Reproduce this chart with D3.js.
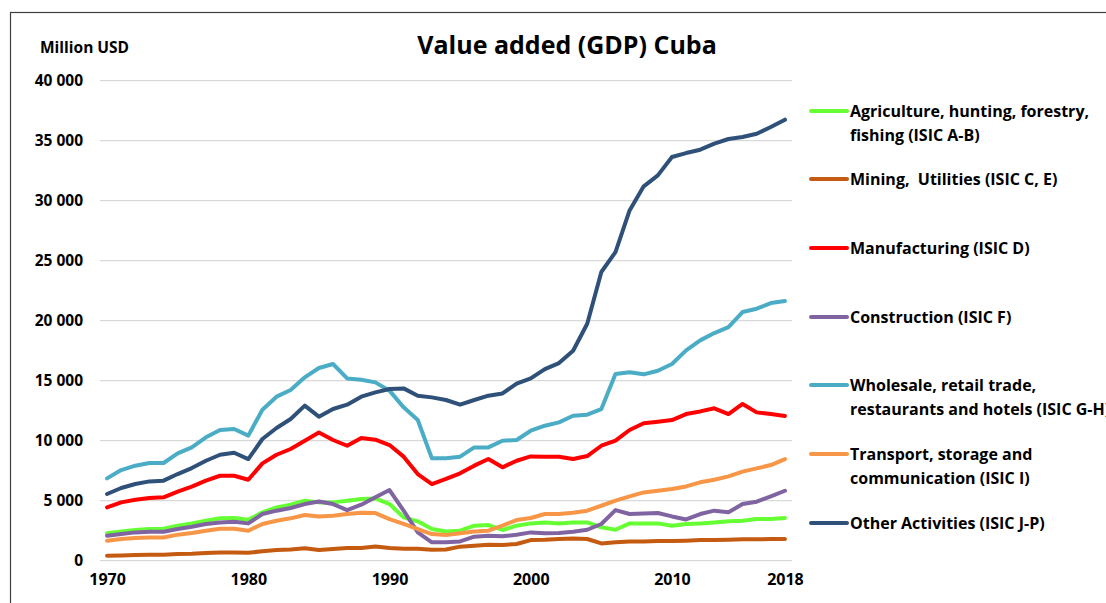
<!DOCTYPE html>
<html><head><meta charset="utf-8">
<script src="https://cdn.jsdelivr.net/npm/d3@7"></script>
<style>
html,body{margin:0;padding:0;background:#fff;}
svg{display:block;font-family:"Open Sans",sans-serif;font-weight:bold;}
text{white-space:pre;}
</style></head>
<body><svg id="c" width="1106" height="603"></svg>
<script>
const years = [1970,1971,1972,1973,1974,1975,1976,1977,1978,1979,1980,1981,1982,1983,1984,1985,1986,1987,1988,1989,1990,1991,1992,1993,1994,1995,1996,1997,1998,1999,2000,2001,2002,2003,2004,2005,2006,2007,2008,2009,2010,2011,2012,2013,2014,2015,2016,2017,2018];
const xTickLabels = [1970,1980,1990,2000,2010,2018];
const yTicks = [0,5000,10000,15000,20000,25000,30000,35000,40000];

const agriculture = [2280,2440,2560,2640,2670,2920,3110,3330,3530,3560,3420,4030,4440,4670,5000,4860,4860,5000,5140,5190,4720,3610,3280,2640,2440,2500,2920,2970,2560,2920,3110,3190,3110,3190,3190,2780,2580,3110,3110,3110,2920,3060,3110,3190,3280,3330,3470,3470,3560];
const mining = [420,440,470,500,500,560,580,640,690,690,670,780,890,940,1030,890,970,1060,1060,1190,1060,1000,1000,920,940,1170,1250,1330,1310,1390,1720,1750,1810,1860,1810,1440,1530,1610,1610,1640,1640,1670,1720,1720,1750,1780,1780,1810,1810];
const manufacturing = [4440,4860,5080,5220,5280,5750,6170,6670,7080,7080,6750,8110,8830,9310,10000,10690,10060,9580,10220,10080,9640,8670,7220,6390,6810,7280,7920,8470,7780,8330,8690,8670,8670,8470,8720,9580,10000,10890,11450,11580,11720,12220,12440,12700,12220,13060,12360,12220,12060];
const construction = [2080,2220,2360,2420,2420,2640,2830,3060,3190,3250,3110,3890,4170,4390,4720,4940,4720,4220,4670,5280,5890,4170,2360,1530,1530,1610,2000,2080,2030,2170,2360,2280,2310,2420,2580,3060,4220,3890,3940,3970,3690,3440,3890,4170,4030,4720,4920,5360,5830];
const wholesale = [6860,7550,7920,8140,8140,8940,9440,10280,10890,10970,10420,12580,13670,14220,15280,16060,16390,15190,15080,14860,14170,12780,11720,8530,8530,8670,9440,9440,10000,10060,10830,11250,11530,12080,12170,12640,15560,15700,15530,15830,16390,17530,18360,18970,19470,20720,21000,21470,21640];
const transport = [1670,1810,1890,1940,1940,2170,2310,2500,2670,2670,2500,3060,3330,3530,3810,3690,3750,3890,4000,3970,3470,3060,2640,2220,2140,2280,2440,2500,2920,3390,3560,3890,3890,4000,4170,4580,5000,5360,5690,5830,5970,6190,6530,6750,7030,7420,7690,7970,8470];
const other = [5560,6060,6390,6610,6670,7220,7720,8330,8830,9000,8470,10140,11060,11810,12920,12000,12640,13000,13670,14030,14310,14360,13750,13610,13390,13000,13390,13750,13940,14750,15200,15970,16470,17500,19750,24060,25720,29190,31200,32110,33640,33970,34250,34750,35140,35310,35580,36140,36750];

const seriesNames = [
  ["Agriculture, hunting, forestry,","fishing (ISIC A-B)"],
  ["Mining,  Utilities (ISIC C, E)"],
  ["Manufacturing (ISIC D)"],
  ["Construction (ISIC F)"],
  ["Wholesale, retail trade,","restaurants and hotels (ISIC G-H)"],
  ["Transport, storage and","communication (ISIC I)"],
  ["Other Activities (ISIC J-P)"]
];
const seriesValues = [agriculture, mining, manufacturing, construction, wholesale, transport, other];
const seriesColors = ["#66ff33","#c55a11","#ff0000","#8064a2","#4bacc6","#f79646","#2e5079"];

const svg = d3.select("#c");
svg.append("rect").attr("x",10.5).attr("y",12.5).attr("width",1200).attr("height",700)
  .attr("fill","#fff").attr("stroke","#404040").attr("stroke-width",1.2);

const x = d3.scalePoint().domain(years).range([100,792]).padding(0.5);
const y = d3.scaleLinear().domain([0,40000]).range([560.7,80.7]);

// gridlines
const grid = svg.append("g");
grid.selectAll("line").data(yTicks).join("line")
  .attr("x1",100).attr("x2",792)
  .attr("y1",d=>y(d)).attr("y2",d=>y(d))
  .attr("stroke","#d9d9d9").attr("stroke-width",1.3);

// y axis
const fmt = v => d3.format(",")(v).replace(/,/g," ");
const yAxis = d3.axisLeft(y).tickValues(yTicks).tickFormat(fmt).tickSize(0).tickPadding(0);
const yg = svg.append("g").attr("transform","translate(83,0)").call(yAxis);
yg.select(".domain").remove();
yg.selectAll("text").attr("font-size",15.5).attr("font-family","'Open Sans',sans-serif").attr("font-weight","bold").attr("fill","#000");

// x axis
const xAxis = d3.axisBottom(x).tickValues(xTickLabels).tickSize(0).tickPadding(0);
const xg = svg.append("g").attr("transform","translate(0,574)").call(xAxis);
xg.select(".domain").remove();
xg.selectAll("text").attr("font-size",16).attr("font-family","'Open Sans',sans-serif").attr("font-weight","bold").attr("fill","#000");

// lines
const line = d3.line().x((d,i)=>x(years[i])).y(d=>y(d));
seriesValues.forEach((vals,k)=>{
  svg.append("path").datum(vals).attr("d",line)
    .attr("fill","none").attr("stroke",seriesColors[k]).attr("stroke-width",4)
    .attr("stroke-linejoin","round").attr("stroke-linecap","round");
});

// title and axis label
svg.append("text").attr("x",567).attr("y",54).attr("text-anchor","middle")
  .attr("font-size",25).attr("fill","#000").text("Value added (GDP) Cuba");
svg.append("text").attr("x",40).attr("y",53).attr("font-size",15.5).attr("fill","#000").text("Million USD");

// legend
const legendY = [111,179,248,317,385,454,523];
const lg = svg.append("g");
seriesNames.forEach((lines,k)=>{
  const ly = legendY[k];
  lg.append("line").attr("x1",811).attr("x2",847).attr("y1",ly).attr("y2",ly)
    .attr("stroke",seriesColors[k]).attr("stroke-width",4).attr("stroke-linecap","round");
  lines.forEach((t,j)=>{
    lg.append("text").attr("x",850).attr("y",ly+6+j*23.5).attr("font-size",16)
      .attr("fill","#000").text(t);
  });
});
</script></body></html>
